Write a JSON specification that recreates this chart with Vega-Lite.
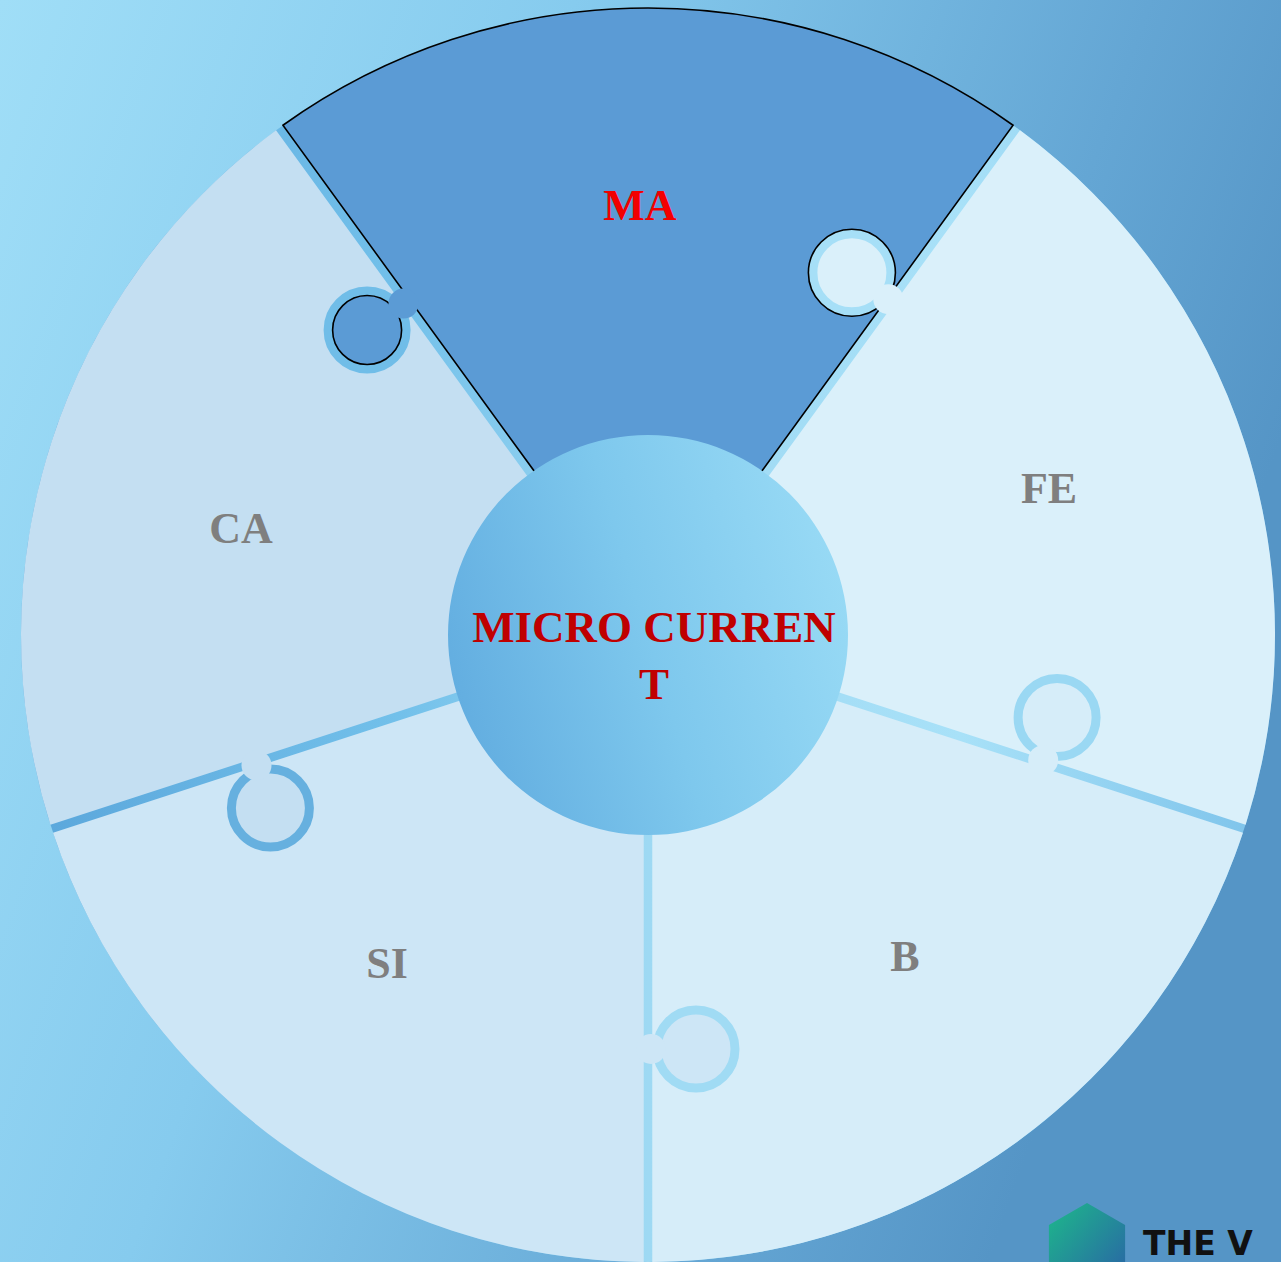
{
  "$schema": "https://vega.github.io/schema/vega-lite/v6.json",
  "width": 1281,
  "height": 1262,
  "autosize": {"type": "fit", "contains": "padding"},
  "padding": 0,
  "background": "#8ccfef",
  "view": {
    "stroke": null,
    "fill": {"gradient": "linear", "x1": 0, "y1": 0, "x2": 1, "y2": 0.35,
      "stops": [{"offset": 0, "color": "#a0def7"}, {"offset": 0.4, "color": "#86cbee"}, {"offset": 0.8, "color": "#64a6d4"}, {"offset": 1, "color": "#5595c6"}]}
  },
  "datasets": {
    "pieces": [
      {"piece": "MA", "t0": -36, "t1": 36},
      {"piece": "FE", "t0": 36, "t1": 108},
      {"piece": "B", "t0": 108, "t1": 180},
      {"piece": "SI", "t0": 180, "t1": 252},
      {"piece": "CA", "t0": 252, "t1": 324}
    ],
    "disk": [{"t0": 0, "t1": 360}],
    "knobs": [
      {"knob": "k1", "owner": "MA", "x": -280.9, "y": 305.0, "nx": -244.5, "ny": 331.4},
      {"knob": "k2", "owner": "FE", "x": 203.9, "y": 362.2, "nx": 240.3, "ny": 335.8},
      {"knob": "k3", "owner": "B", "x": 409.1, "y": -82.5, "nx": 395.2, "ny": -125.2},
      {"knob": "k4", "owner": "SI", "x": 48, "y": -414, "nx": 3, "ny": -414},
      {"knob": "k5", "owner": "CA", "x": -377.6, "y": -173.1, "nx": -391.5, "ny": -130.4}
    ],
    "labels": [
      {"label": "MA", "x": -8, "y": 428},
      {"label": "FE", "x": 401, "y": 145},
      {"label": "B", "x": 257, "y": -323},
      {"label": "SI", "x": -261, "y": -330},
      {"label": "CA", "x": -407, "y": 105}
    ],
    "center": [{"x": 6, "y": 7}],
    "mark": [{"name": "THE V", "x": 495, "y": -620, "lx": 439, "ly": -612}]
  },
  "layer": [
    {
      "data": {"name": "disk"},
      "mark": {"type": "arc", "outerRadius": 627, "innerRadius": 0,
        "fill": {"gradient": "linear", "x1": 0, "y1": 0.5, "x2": 1, "y2": 0.5,
          "stops": [{"offset": 0, "color": "#5aa6db"}, {"offset": 0.3, "color": "#72c0ea"}, {"offset": 0.5, "color": "#9ed9f3"}, {"offset": 0.75, "color": "#a8e1f8"}, {"offset": 1, "color": "#7cc2ea"}]}},
      "encoding": {
        "x": {"datum": 0, "type": "quantitative", "axis": null, "scale": {"domain": [-648, 633], "nice": false, "zero": false}},
        "y": {"datum": 0, "type": "quantitative", "axis": null, "scale": {"domain": [-627, 635], "nice": false, "zero": false}},
        "theta": {"field": "t0", "type": "quantitative", "stack": null, "scale": {"type": "linear", "domain": [0, 360], "range": [0, 6.283185307], "zero": false, "nice": false}},
        "theta2": {"field": "t1"}
      }
    },
    {
      "data": {"name": "pieces"},
      "mark": {"type": "arc", "outerRadius": 627, "innerRadius": 198, "padAngle": 0.013, "stroke": "#000000"},
      "encoding": {
        "x": {"datum": 0, "type": "quantitative"},
        "y": {"datum": 0, "type": "quantitative"},
        "theta": {"field": "t0", "type": "quantitative", "stack": null},
        "theta2": {"field": "t1"},
        "fill": {"field": "piece", "type": "nominal", "legend": null,
          "scale": {"domain": ["MA", "FE", "B", "SI", "CA"], "range": ["#5b9bd5", "#daf0fa", "#d6edf9", "#cde6f6", "#c4dff2"]}},
        "strokeWidth": {"condition": {"test": "datum.piece === 'MA'", "value": 1.6}, "value": 0}
      }
    },
    {
      "data": {"name": "disk"},
      "mark": {"type": "arc", "outerRadius": 200, "innerRadius": 0,
        "fill": {"gradient": "linear", "x1": 0, "y1": 0.65, "x2": 1, "y2": 0.35,
          "stops": [{"offset": 0, "color": "#62ade0"}, {"offset": 0.5, "color": "#7ec8ed"}, {"offset": 1, "color": "#98daf5"}]}},
      "encoding": {
        "x": {"datum": 0, "type": "quantitative"},
        "y": {"datum": 0, "type": "quantitative"},
        "theta": {"field": "t0", "type": "quantitative", "stack": null},
        "theta2": {"field": "t1"}
      }
    },
    {
      "data": {"name": "knobs"},
      "mark": {"type": "point", "shape": "circle", "filled": true, "opacity": 1, "size": 6084, "strokeWidth": 9},
      "encoding": {
        "x": {"field": "x", "type": "quantitative"},
        "y": {"field": "y", "type": "quantitative"},
        "fill": {"field": "owner", "type": "nominal", "legend": null},
        "stroke": {"field": "knob", "type": "nominal", "legend": null,
          "scale": {"domain": ["k1", "k2", "k3", "k4", "k5"], "range": ["#70bde8", "#a6dff7", "#9ad8f3", "#a0dbf4", "#66b0df"]}}
      }
    },
    {
      "data": {"name": "knobs"},
      "transform": [{"filter": "datum.knob === 'k1'"}],
      "mark": {"type": "point", "shape": "circle", "filled": false, "fill": null, "opacity": 1, "size": 4761, "strokeWidth": 1.6, "stroke": "#000000"},
      "encoding": {
        "x": {"field": "x", "type": "quantitative"},
        "y": {"field": "y", "type": "quantitative"}
      }
    },
    {
      "data": {"name": "knobs"},
      "transform": [{"filter": "datum.knob === 'k2'"}],
      "mark": {"type": "point", "shape": "circle", "filled": false, "fill": null, "opacity": 1, "size": 7569, "strokeWidth": 1.6, "stroke": "#000000"},
      "encoding": {
        "x": {"field": "x", "type": "quantitative"},
        "y": {"field": "y", "type": "quantitative"}
      }
    },
    {
      "data": {"name": "knobs"},
      "mark": {"type": "point", "shape": "circle", "filled": true, "opacity": 1, "size": 900, "strokeWidth": 0},
      "encoding": {
        "x": {"field": "nx", "type": "quantitative"},
        "y": {"field": "ny", "type": "quantitative"},
        "fill": {"field": "owner", "type": "nominal", "legend": null}
      }
    },
    {
      "data": {"name": "labels"},
      "mark": {"type": "text", "font": "Liberation Serif", "fontWeight": "bold", "fontSize": 44, "align": "center", "baseline": "middle"},
      "encoding": {
        "x": {"field": "x", "type": "quantitative"},
        "y": {"field": "y", "type": "quantitative"},
        "text": {"field": "label", "type": "nominal"},
        "fill": {"condition": {"test": "datum.label === 'MA'", "value": "#f20000"}, "value": "#7f7f7f"}
      }
    },
    {
      "data": {"name": "center"},
      "mark": {"type": "text", "text": ["MICRO CURREN", "T"], "font": "Liberation Serif", "fontWeight": "bold", "fontSize": 45, "lineHeight": 57, "align": "center", "baseline": "middle", "fill": "#c00000"},
      "encoding": {
        "x": {"field": "x", "type": "quantitative"},
        "y": {"field": "y", "type": "quantitative"}
      }
    },
    {
      "data": {"name": "mark"},
      "mark": {"type": "point", "clip": true, "shape": "M0,-1L0.866,-0.5L0.866,0.5L0,1L-0.866,0.5L-0.866,-0.5Z", "filled": true, "opacity": 1, "size": 7744, "strokeWidth": 0,
        "fill": {"gradient": "linear", "x1": 0, "y1": 0, "x2": 1, "y2": 1, "stops": [{"offset": 0, "color": "#1db98a"}, {"offset": 1, "color": "#2a5fa8"}]}},
      "encoding": {
        "x": {"field": "lx", "type": "quantitative"},
        "y": {"field": "ly", "type": "quantitative"}
      }
    },
    {
      "data": {"name": "mark"},
      "mark": {"type": "text", "clip": true, "font": "DejaVu Sans", "fontWeight": "bold", "fontSize": 33, "align": "left", "baseline": "alphabetic", "fill": "#111111"},
      "encoding": {
        "x": {"field": "x", "type": "quantitative"},
        "y": {"field": "y", "type": "quantitative"},
        "text": {"field": "name", "type": "nominal"}
      }
    }
  ]
}
